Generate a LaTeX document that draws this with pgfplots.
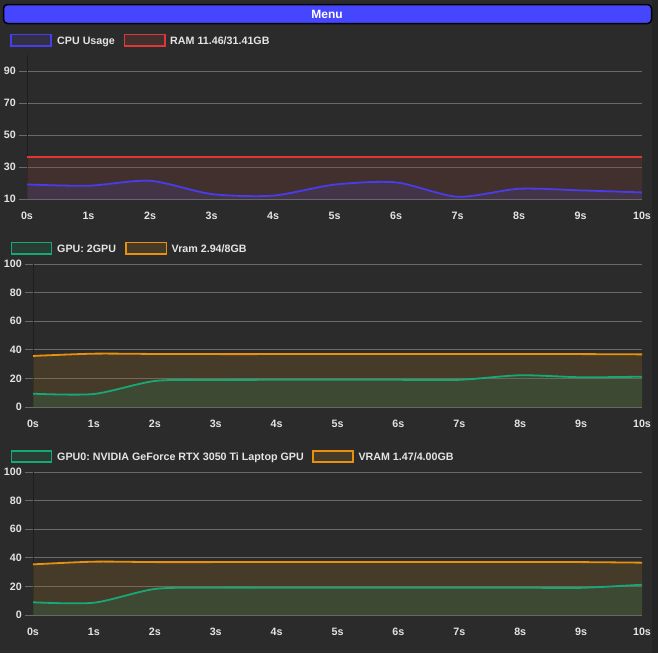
\documentclass[border=0pt]{standalone}
\usepackage{pgfplots}
\pgfplotsset{compat=1.18}
\usepackage{fontspec}
\setmainfont{Liberation Sans}
\frenchspacing
\definecolor{bg}{HTML}{2B2B2B}
\definecolor{edge}{HTML}{242424}
\definecolor{gridc}{HTML}{6A6A6A}
\definecolor{axdark}{HTML}{1E1E1E}
\definecolor{txt}{HTML}{E4E4E4}
\definecolor{cpu}{RGB}{72,60,235}
\definecolor{cpuf}{RGB}{74,64,147}
\definecolor{ram}{RGB}{222,55,55}
\definecolor{ramf}{RGB}{135,63,59}
\definecolor{gpu}{RGB}{24,168,120}
\definecolor{gpuf}{RGB}{38,118,82}
\definecolor{vram}{RGB}{232,145,12}
\definecolor{vramf}{RGB}{151,103,39}
\definecolor{menu}{RGB}{70,70,255}
\newcommand{\tf}{\fontsize{10.7}{12}\selectfont\bfseries}
\pgfplotsset{panel/.style={
  scale only axis, anchor=south west,
  xmin=0, xmax=10, xtick={0,1,2,3,4,5,6,7,8,9,10},
  xticklabels={0s,1s,2s,3s,4s,5s,6s,7s,8s,9s,10s},
  axis lines*=left,
  x axis line style={draw=gridc, line width=1pt, -},
  y axis line style={draw=axdark, line width=1pt, -},
  ymajorgrids, grid style={gridc, line width=1pt},
  xtick style={draw=none},
  ytick style={draw=gridc, line width=1pt},
  tick align=outside, major tick length=8pt,
  ticklabel style={font=\tf, text=txt},
  /pgf/number format/assume math mode=true,
  yticklabel style={anchor=east, inner sep=0pt, xshift=-3pt},
  xticklabel style={anchor=base, inner sep=0pt, yshift=-12pt},
  fillp/.style={draw=none, fill opacity=0.25, smooth, tension=0.45},
  linep/.style={line width=1.8pt, smooth, tension=0.45},
}}
\begin{document}
\begin{tikzpicture}[x=1pt,y=1pt]
\useasboundingbox (0,0) rectangle (658,-653);
\fill[bg] (0,0) rectangle (658,-653);
\fill[edge] (652,0) rectangle (658,-653);
% menu bar
\draw[black, line width=1.5pt, fill=menu, rounded corners=4pt] (3.5,-4.5) rectangle (651.5,-23.5);
\node[anchor=base, inner sep=0pt, text=white, font=\fontsize{12}{14}\selectfont\bfseries] at (327,-18.3) {Menu};
% legends
\draw[cpu, line width=1.6pt, fill=cpuf, fill opacity=0.25] (10.8,-34.3) rectangle (51,-46);
\node[anchor=base west, inner sep=0pt, text=txt, font=\tf] at (57,-44) {CPU Usage};
\draw[ram, line width=1.6pt, fill=ramf, fill opacity=0.25] (124.5,-34.3) rectangle (165,-46);
\node[anchor=base west, inner sep=0pt, text=txt, font=\tf] at (170,-44) {RAM 11.46/31.41GB};
\draw[gpu, line width=1.6pt, fill=gpuf, fill opacity=0.25] (11.5,-242.5) rectangle (51.5,-254);
\node[anchor=base west, inner sep=0pt, text=txt, font=\tf] at (57,-252) {GPU: 2GPU};
\draw[vram, line width=1.6pt, fill=vramf, fill opacity=0.25] (126,-242.5) rectangle (166.5,-254);
\node[anchor=base west, inner sep=0pt, text=txt, font=\tf] at (171.5,-252) {Vram 2.94/8GB};
\draw[gpu, line width=1.6pt, fill=gpuf, fill opacity=0.25] (11.5,-450.8) rectangle (51.5,-462);
\node[anchor=base west, inner sep=0pt, text=txt, font=\tf] at (57,-460.3) {GPU0: NVIDIA GeForce RTX 3050 Ti Laptop GPU};
\draw[vram, line width=1.6pt, fill=vramf, fill opacity=0.25] (312.8,-450.8) rectangle (353,-462);
\node[anchor=base west, inner sep=0pt, text=txt, font=\tf] at (358.3,-460.3) {VRAM 1.47/4.00GB};

% panel 1
\begin{axis}[panel, at={(27pt,-199pt)}, width=615pt, height=144pt,
  ymin=10, ymax=100, ytick={10,30,50,70,90}]
\addplot[fillp, fill=ramf] coordinates {(0,36.5)(1,36.5)(2,36.5)(3,36.5)(4,36.5)(5,36.5)(6,36.5)(7,36.5)(8,36.5)(9,36.5)(10,36.5)} \closedcycle;
\addplot[linep, ram] coordinates {(0,36.5)(1,36.5)(2,36.5)(3,36.5)(4,36.5)(5,36.5)(6,36.5)(7,36.5)(8,36.5)(9,36.5)(10,36.5)};
\addplot[fillp, fill=cpuf] coordinates {(0,19.1)(1,18.3)(2,21.4)(3,13.1)(4,12.1)(5,19.0)(6,20.4)(7,11.4)(8,16.4)(9,15.4)(10,14.1)} \closedcycle;
\addplot[linep, cpu] coordinates {(0,19.1)(1,18.3)(2,21.4)(3,13.1)(4,12.1)(5,19.0)(6,20.4)(7,11.4)(8,16.4)(9,15.4)(10,14.1)};
\end{axis}

% panel 2
\begin{axis}[panel, at={(33pt,-407pt)}, width=609pt, height=143pt,
  ymin=0, ymax=100, ytick={0,20,40,60,80,100}]
\addplot[fillp, fill=vramf] coordinates {(0,35.7)(1,37.3)(2,37.1)(3,37.0)(4,37.0)(5,37.0)(6,37.0)(7,37.0)(8,37.0)(9,37.0)(10,36.8)} \closedcycle;
\addplot[linep, vram] coordinates {(0,35.7)(1,37.3)(2,37.1)(3,37.0)(4,37.0)(5,37.0)(6,37.0)(7,37.0)(8,37.0)(9,37.0)(10,36.8)};
\addplot[fillp, fill=gpuf] coordinates {(0,9.3)(1,9.1)(2,18.2)(3,18.9)(4,19.0)(5,19.0)(6,19.0)(7,19.0)(8,22.2)(9,20.8)(10,21.2)} \closedcycle;
\addplot[linep, gpu] coordinates {(0,9.3)(1,9.1)(2,18.2)(3,18.9)(4,19.0)(5,19.0)(6,19.0)(7,19.0)(8,22.2)(9,20.8)(10,21.2)};
\end{axis}

% panel 3
\begin{axis}[panel, at={(33pt,-615pt)}, width=609pt, height=143pt,
  ymin=0, ymax=100, ytick={0,20,40,60,80,100}]
\addplot[fillp, fill=vramf] coordinates {(0,35.4)(1,37.3)(2,37.0)(3,37.0)(4,37.0)(5,37.0)(6,37.0)(7,37.0)(8,37.0)(9,37.0)(10,36.6)} \closedcycle;
\addplot[linep, vram] coordinates {(0,35.4)(1,37.3)(2,37.0)(3,37.0)(4,37.0)(5,37.0)(6,37.0)(7,37.0)(8,37.0)(9,37.0)(10,36.6)};
\addplot[fillp, fill=gpuf] coordinates {(0,8.9)(1,8.6)(2,18.2)(3,19.1)(4,19.1)(5,19.1)(6,19.1)(7,19.1)(8,19.1)(9,19.0)(10,21.2)} \closedcycle;
\addplot[linep, gpu] coordinates {(0,8.9)(1,8.6)(2,18.2)(3,19.1)(4,19.1)(5,19.1)(6,19.1)(7,19.1)(8,19.1)(9,19.0)(10,21.2)};
\end{axis}
\end{tikzpicture}
\end{document}
